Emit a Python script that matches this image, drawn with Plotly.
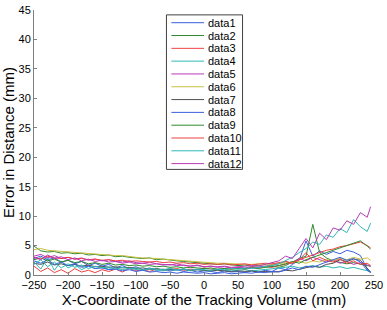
import plotly.graph_objects as go

X = list(range(-250, 241, 10)) + [245]

data1 = [2.8, 3.2, 2.6, 2.9, 2.2, 2.5, 1.9, 2.3, 1.6, 2.0,
         1.5, 1.8, 1.2, 1.6, 1.1, 1.4, 0.9, 1.2, 0.8, 1.0,
         0.7, 0.9, 0.6, 0.8, 0.5, 0.7, 0.6, 0.4, 0.7, 0.5,
         0.6, 0.4, 0.7, 0.5, 0.8, 0.6, 1.2, 0.9, 1.8, 2.5,
         5.8, 3.2, 4.1, 3.5, 4.0, 3.6, 4.2, 3.9, 3.3, 1.0, 0.4]
data2 = [4.9, 4.1, 3.9, 4.0, 3.7, 3.8, 3.6, 3.7, 3.4, 3.5,
         3.3, 3.4, 3.1, 3.2, 3.0, 2.9, 2.8, 2.9, 2.6, 2.7,
         2.5, 2.4, 2.3, 2.2, 2.1, 2.0, 1.9, 1.8, 1.9, 1.7,
         1.6, 1.7, 1.5, 1.6, 1.4, 1.5, 1.3, 1.6, 2.2, 2.8,
         3.2, 8.6, 3.8, 2.9, 2.4, 2.2, 1.9, 2.1, 1.8, 1.6, 1.5]
data3 = [1.5, 0.6, 1.2, 0.4, 0.9, 0.3, 1.1, 0.5, 0.8, 0.4,
         0.9, 0.6, 1.0, 0.5, 1.1, 0.7, 0.9, 0.6, 1.0, 0.8,
         0.9, 1.1, 0.8, 1.0, 0.9, 1.2, 1.0, 0.9, 1.1, 1.0,
         1.2, 1.1, 1.3, 1.2, 1.4, 1.3, 1.6, 1.8, 2.1, 2.6,
         3.0, 3.4, 3.8, 4.2, 4.4, 4.8, 5.0, 5.3, 5.6, 5.0, 4.6]
data4 = [2.2, 1.0, 3.0, 0.8, 2.4, 1.2, 1.8, 0.9, 1.5, 1.1,
         1.3, 1.0, 1.2, 0.9, 1.1, 1.0, 0.8, 1.0, 0.9, 0.7,
         0.9, 0.8, 1.0, 0.7, 0.9, 0.8, 0.7, 0.9, 0.8, 0.7,
         0.8, 0.9, 0.7, 0.8, 0.9, 1.0, 1.1, 1.3, 1.5, 1.2,
         1.4, 1.6, 1.3, 1.5, 1.2, 1.4, 1.1, 1.3, 1.0, 0.8, 0.6]
data5 = [3.2, 3.5, 2.9, 3.3, 2.8, 3.0, 2.7, 2.9, 2.5, 2.7,
         2.4, 2.6, 2.3, 2.2, 2.4, 2.1, 2.0, 2.2, 1.9, 1.8,
         1.7, 1.9, 1.6, 1.5, 1.7, 1.4, 1.5, 1.3, 1.4, 1.2,
         1.3, 1.2, 1.4, 1.3, 1.5, 1.6, 1.9, 2.3, 2.0, 2.8,
         2.4, 3.0, 2.6, 2.2, 2.5, 2.0, 2.3, 1.8, 2.1, 1.7, 1.5]
data6 = [4.3, 4.5, 4.2, 4.1, 4.0, 3.9, 3.8, 3.8, 3.7, 3.6,
         3.5, 3.4, 3.3, 3.3, 3.1, 3.0, 2.9, 2.9, 2.8, 2.7,
         2.6, 2.5, 2.5, 2.4, 2.3, 2.2, 2.1, 2.0, 2.0, 1.9,
         1.9, 1.8, 1.8, 1.9, 1.7, 1.8, 1.9, 2.0, 2.1, 2.3,
         2.0, 2.4, 2.2, 2.6, 2.5, 2.8, 2.6, 3.0, 2.7, 2.9, 2.5]
data7 = [2.0, 1.8, 2.2, 1.7, 1.9, 1.6, 1.8, 1.5, 1.7, 1.4,
         1.5, 1.3, 1.4, 1.2, 1.3, 1.1, 1.2, 1.0, 1.1, 0.9,
         1.0, 0.9, 1.0, 0.8, 0.9, 0.8, 0.7, 0.8, 0.7, 0.6,
         0.7, 0.6, 0.7, 0.5, 0.6, 0.5, 0.6, 0.8, 0.7, 1.0,
         1.2, 1.5, 1.3, 1.8, 2.0, 2.6, 2.3, 2.7, 2.5, 1.2, 0.5]
data8 = [2.4, 2.0, 2.6, 1.8, 2.2, 1.6, 1.9, 1.3, 1.5, 1.1,
         1.2, 0.9, 1.0, 0.7, 0.9, 0.6, 0.8, 0.5, 0.6, 0.4,
         0.5, 0.3, 0.5, 0.4, 0.3, 0.4, 0.2, 0.3, 0.4, 0.2,
         0.3, 0.4, 0.3, 0.5, 0.4, 0.6, 0.5, 0.8, 1.2, 0.9,
         1.5, 1.3, 1.8, 2.2, 2.6, 3.0, 2.5, 2.8, 2.2, 0.8, 0.4]
data9 = [2.6, 2.9, 2.4, 2.7, 2.2, 2.5, 2.1, 2.3, 1.9, 2.1,
         1.8, 2.0, 1.7, 1.8, 1.6, 1.7, 1.5, 1.6, 1.4, 1.5,
         1.3, 1.4, 1.2, 1.3, 1.2, 1.1, 1.2, 1.0, 1.1, 1.0,
         1.1, 1.0, 1.2, 1.1, 1.3, 1.4, 1.6, 1.9, 2.3, 2.0,
         2.6, 3.0, 3.4, 3.9, 4.3, 4.7, 5.0, 5.4, 5.8, 4.9, 4.4]
data10 = [3.0, 2.7, 3.2, 2.9, 2.8, 3.0, 2.7, 2.8, 2.6, 2.7,
          2.5, 2.6, 2.4, 2.5, 2.3, 2.4, 2.3, 2.2, 2.3, 2.1,
          2.2, 2.0, 2.1, 1.9, 2.0, 1.8, 1.9, 1.8, 1.9, 1.7,
          1.8, 1.9, 1.7, 1.8, 2.0, 1.9, 2.1, 2.3, 2.0, 2.6,
          3.8, 2.4, 3.0, 2.5, 2.2, 2.7, 2.0, 2.4, 1.8, 2.0, 1.6]
data11 = [1.8, 2.6, 1.4, 2.2, 1.2, 1.9, 1.3, 1.7, 1.1, 1.5,
          1.2, 1.4, 1.0, 1.3, 1.1, 1.2, 0.9, 1.1, 1.0, 0.9,
          1.1, 0.9, 1.0, 0.8, 1.0, 0.9, 0.8, 1.0, 0.9, 1.1,
          1.0, 1.2, 1.1, 1.3, 1.4, 1.6, 1.9, 2.4, 3.0, 3.8,
          4.5, 5.6, 5.2, 6.8, 6.4, 7.9, 7.2, 9.4, 8.2, 7.4, 8.8]
data12 = [3.0, 2.6, 3.4, 2.8, 3.1, 2.6, 2.9, 2.4, 2.7, 2.3,
          2.5, 2.2, 2.3, 2.0, 2.2, 1.9, 2.0, 1.8, 1.9, 1.7,
          1.8, 1.6, 1.7, 1.5, 1.6, 1.4, 1.5, 1.4, 1.5, 1.3,
          1.4, 1.5, 1.6, 1.5, 1.8, 2.0, 2.4, 3.2, 2.8, 4.5,
          6.2, 4.6, 7.1, 6.0, 8.0, 7.6, 9.2, 8.6, 10.6, 9.8, 11.6]

names = ["data1", "data2", "data3", "data4", "data5", "data6",
         "data7", "data8", "data9", "data10", "data11", "data12"]
series = [data1, data2, data3, data4, data5, data6,
          data7, data8, data9, data10, data11, data12]
colors = ["#3a5fe0", "#2f8a2f", "#ee4040", "#30b8b8", "#b83ab8", "#c8c040",
          "#505050", "#3a5fe0", "#2f8a2f", "#ee4040", "#30b8b8", "#b83ab8"]

W, H = 387, 310
L, R, T, B = 33, 377, 4, 275  # plot area in pixels

fig = go.Figure()
for n, s, c in zip(names, series, colors):
    fig.add_trace(go.Scatter(x=X, y=s, mode="lines", name=n,
                             line=dict(color=c, width=1), showlegend=False))

def px(xp):
    return (xp - L) / (R - L)

def py(yp):
    return (B - yp) / (B - T)

# manual legend (compact, MATLAB-like)
shapes = [dict(type="rect", xref="paper", yref="paper",
               x0=px(167), x1=px(244), y0=py(167), y1=py(9),
               line=dict(color="#404040", width=1), fillcolor="white", layer="above")]
annotations = []
for i, (n, c) in enumerate(zip(names, colors)):
    yc = 17 + i * 13.1
    shapes.append(dict(type="line", xref="paper", yref="paper",
                       x0=px(172), x1=px(205), y0=py(yc), y1=py(yc),
                       line=dict(color=c, width=1), layer="above"))
    annotations.append(dict(xref="paper", yref="paper", x=px(207), y=py(yc),
                            text=n, showarrow=False, xanchor="left", yanchor="middle",
                            font=dict(size=11, color="black", family="Liberation Sans")))

fig.update_layout(
    width=W, height=H,
    margin=dict(l=L, r=W - R, t=T, b=H - B),
    paper_bgcolor="white", plot_bgcolor="white",
    font=dict(family="Liberation Sans", size=11, color="black"),
    shapes=shapes, annotations=annotations,
    xaxis=dict(range=[-250, 250], tickvals=list(range(-250, 251, 50)),
               showgrid=False, zeroline=False, showline=True, linecolor="#808080",
               linewidth=1, ticks="inside", ticklen=3, tickcolor="#808080",
               tickfont=dict(size=11), ticklabeloverflow="allow",
               title=dict(text="X-Coordinate of the Tracking Volume (mm)",
                          font=dict(size=15), standoff=4)),
    yaxis=dict(range=[0, 45], tickvals=list(range(0, 46, 5)),
               showgrid=False, zeroline=False, showline=True, linecolor="#808080",
               linewidth=1, ticks="inside", ticklen=3, tickcolor="#808080",
               tickfont=dict(size=11), ticklabeloverflow="allow",
               title=dict(text="Error in Distance (mm)", font=dict(size=15), standoff=4)),
)

fig.write_html("out.html", config={"displayModeBar": False},
               post_script="document.body.style.margin='0';document.body.style.overflow='hidden';")
